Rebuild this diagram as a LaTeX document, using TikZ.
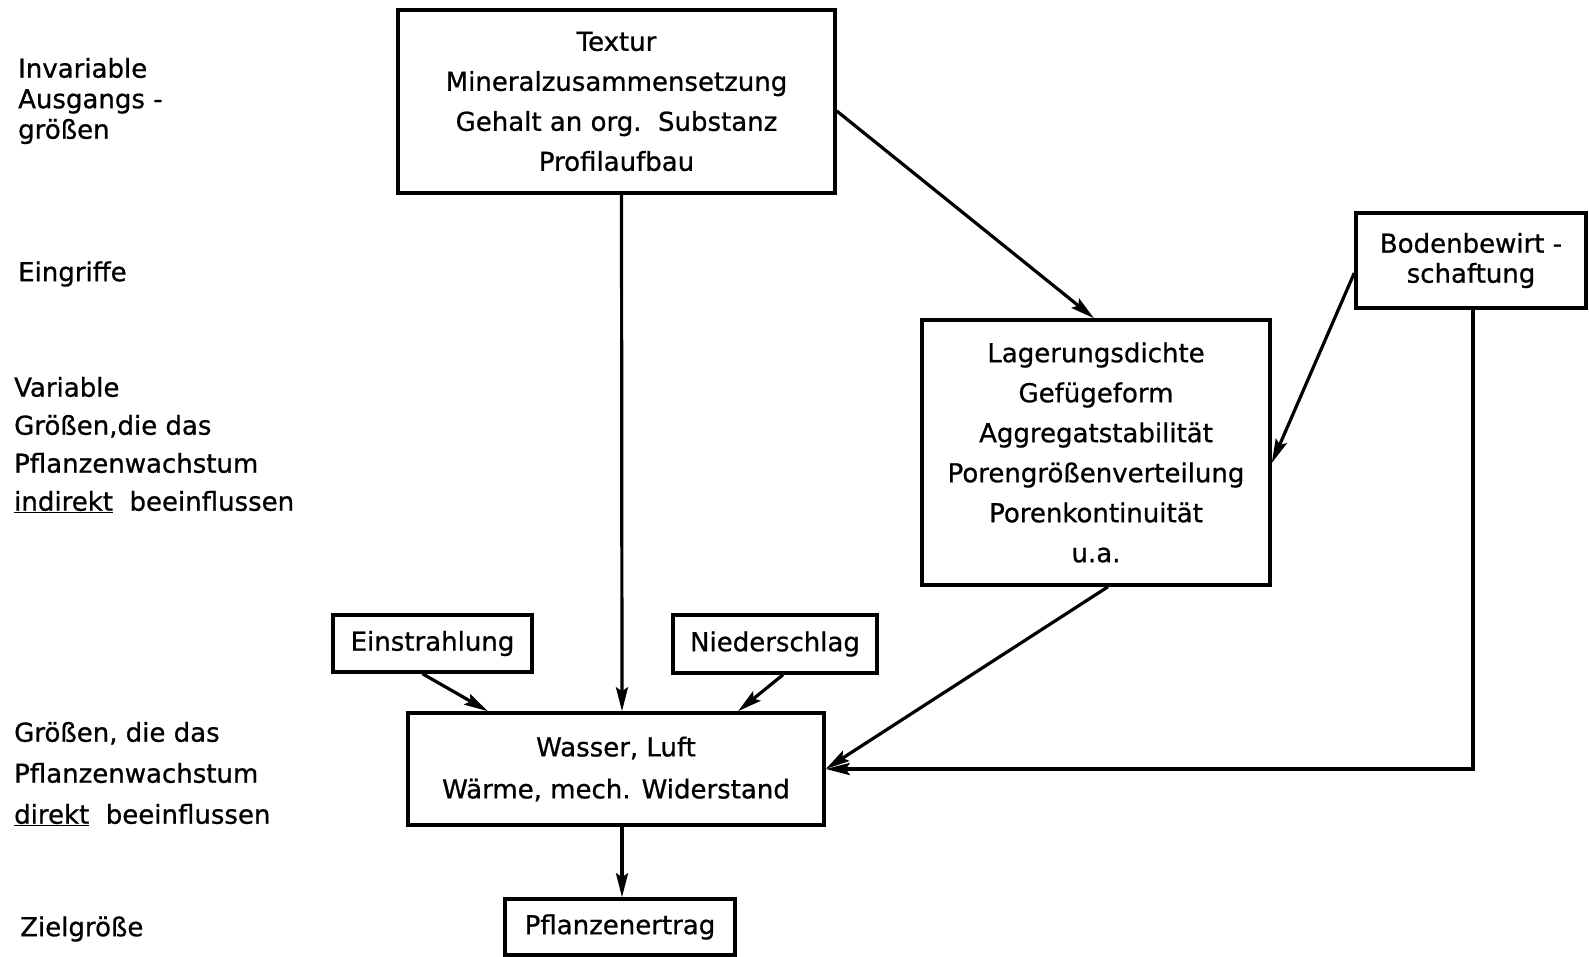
\documentclass[tikz,border=0pt]{standalone}
\usepackage{fontspec}
\setmainfont{DejaVu Sans}[FakeBold=0.8]
\usetikzlibrary{arrows.meta,calc}
\begin{document}
\begin{tikzpicture}[x=1pt,y=-1pt,
  box/.style={draw,line width=3.5pt,inner sep=0pt,align=center,font=\fontsize{26}{40}\selectfont},
  lbl/.style={anchor=west,align=left,inner sep=0pt,font=\fontsize{26}{30}\selectfont},
  arr/.style={line width=3.2pt,-{Stealth[length=24pt,width=12pt,inset=4pt]}}]
\useasboundingbox (0,0) rectangle (1589,956);
% boxes
\node[box,minimum width=437pt,minimum height=183pt] (top) at (616.5,101.5)
  {Textur\\Mineralzusammensetzung\\Gehalt an org.\ \ Substanz\\Profilaufbau};
\node[box,minimum width=348pt,minimum height=265pt] (lag) at (1096,452.5)
  {Lagerungsdichte\\Gefügeform\\Aggregatstabilität\\Porengrößenverteilung\\Porenkontinuität\\u.a.};
\node[box,minimum width=230pt,minimum height=95pt,font=\fontsize{26}{30}\selectfont] (boden) at (1471,260.5)
  {Bodenbewirt -\\schaftung};
\node[box,minimum width=199pt,minimum height=57pt] (ein) at (432.5,643.5) {Einstrahlung};
\node[box,minimum width=204pt,minimum height=58pt] (nied) at (775,644) {Niederschlag};
\node[box,minimum width=416pt,minimum height=112pt,font=\fontsize{26}{42}\selectfont] (wasser) at (616,769)
  {Wasser, Luft\\Wärme, mech. Widerstand};
\node[box,minimum width=230pt,minimum height=56pt] (pfl) at (620,927) {Pflanzenertrag};
% left labels
\node[lbl,font=\fontsize{26}{30.5}\selectfont] (l1) at (18,101) {Invariable\\Ausgangs -\\größen};
\node[lbl] (l2) at (18,274) {Eingriffe};
\node[lbl,font=\fontsize{26}{38}\selectfont] (l3) at (14,445)
  {Variable\\Größen,die das\\Pflanzenwachstum\\\underline{indirekt}\ \ beeinflussen};
\node[lbl,font=\fontsize{26}{41}\selectfont] (l4) at (14,774)
  {Größen, die das\\Pflanzenwachstum\\\underline{direkt}\ \ beeinflussen};
\node[lbl] (l5) at (20,929) {Zielgröße};
% connectors
\draw[arr] ([xshift=5pt]top.south) -- ([xshift=6pt]wasser.north);
\draw[arr] ([yshift=-9.5pt]top.east) -- ([xshift=-2pt]lag.north);
\draw[arr] ([yshift=-12.5pt]boden.west) -- ([yshift=-10.5pt]lag.east);
\draw[arr] ([xshift=2pt]boden.south) |- (wasser.east);
\draw[arr] ([xshift=12pt]lag.south) -- (wasser.east);
\draw[arr] ([xshift=-10pt]ein.south) -- ([xshift=-128pt]wasser.north);
\draw[arr] ([xshift=8pt]nied.south) -- ([xshift=122pt]wasser.north);
\draw[arr] ([xshift=6pt]wasser.south) -- ([xshift=2pt]pfl.north);
\end{tikzpicture}
\end{document}
